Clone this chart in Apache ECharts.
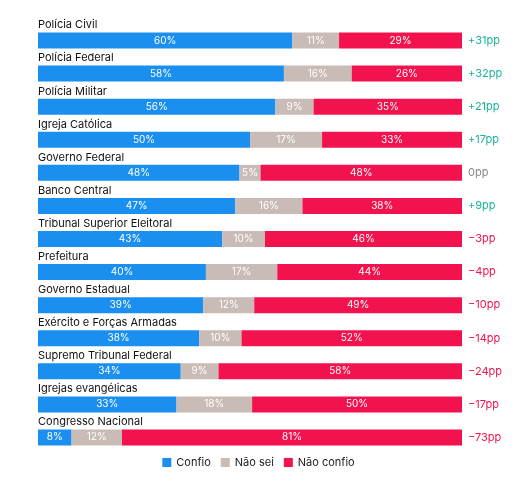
<!DOCTYPE html>
<html><head><meta charset="utf-8">
<script src="https://cdn.jsdelivr.net/npm/echarts@6/dist/echarts.min.js"></script>
<style>html,body{margin:0;background:#fff}#c{width:517px;height:487px}</style>
</head><body><div id="c"></div>
<script>
var categories = ['Polícia Civil', 'Polícia Federal', 'Polícia Militar', 'Igreja Católica', 'Governo Federal',
  'Banco Central', 'Tribunal Superior Eleitoral', 'Prefeitura', 'Governo Estadual', 'Exército e Forças Armadas',
  'Supremo Tribunal Federal', 'Igrejas evangélicas', 'Congresso Nacional'];
var confio = [60, 58, 56, 50, 48, 47, 43, 40, 39, 38, 34, 33, 8];
var naoSei = [11, 16, 9, 17, 5, 16, 10, 17, 12, 10, 9, 18, 12];
var naoConfio = [29, 26, 35, 33, 48, 38, 46, 44, 49, 52, 58, 50, 81];
var saldo = [31, 32, 21, 17, 0, 9, -3, -4, -10, -14, -24, -17, -73];

var chart = echarts.init(document.getElementById('c'));
var font = 'Inter';

function norm(arr) {
  return arr.map(function (v, i) {
    var s = confio[i] + naoSei[i] + naoConfio[i];
    return { value: v / s * 100, raw: v };
  });
}
function saldoText(v) {
  if (v > 0) return '{pos|+' + v + 'pp}';
  if (v < 0) return '{neg|\u2212' + (-v) + 'pp}';
  return '{zero|0pp}';
}
function inner(p) { return p.data.raw + '%'; }

var option = {
  backgroundColor: '#ffffff',
  textStyle: { fontFamily: font },
  legend: {
    bottom: 14, left: 'center', itemWidth: 9, itemHeight: 9, itemGap: 10, icon: 'rect',
    textStyle: { fontSize: 11, color: '#222', fontFamily: font },
    data: ['Confio', 'Não sei', 'Não confio']
  },
  grid: { left: 38, right: 55, top: 24, bottom: 33 },
  xAxis: { type: 'value', min: 0, max: 100, show: false },
  yAxis: {
    type: 'category', inverse: true, data: categories,
    axisLine: { show: false }, axisTick: { show: false },
    axisLabel: {
      inside: true, margin: 0, align: 'left', verticalAlign: 'bottom', padding: [0, 0, 10, 0],
      fontSize: 11, color: '#111', fontFamily: font
    }
  },
  series: [
    { name: 'Confio', type: 'bar', stack: 't', barWidth: 16, itemStyle: { color: '#1a8ff0' },
      data: norm(confio), label: { show: true, color: '#fff', fontSize: 10, formatter: inner } },
    { name: 'Não sei', type: 'bar', stack: 't', itemStyle: { color: '#c9bcb6' },
      data: norm(naoSei), label: { show: true, color: '#fff', fontSize: 10, formatter: inner } },
    { name: 'Não confio', type: 'bar', stack: 't', itemStyle: { color: '#f2134e' },
      data: norm(naoConfio), label: { show: true, color: '#fff', fontSize: 10, formatter: inner } },
    { name: 'saldo', type: 'bar', stack: 't', clip: false, data: saldo.map(function (v) { return { value: 0, s: v }; }),
      itemStyle: { color: 'transparent' }, legendHoverLink: false, silent: true,
      label: {
        show: true, position: 'right', distance: 6,
        formatter: function (p) { return saldoText(p.data.s); },
        rich: {
          pos: { color: '#19b39b', fontSize: 11, fontFamily: font },
          neg: { color: '#f2134e', fontSize: 11, fontFamily: font },
          zero: { color: '#888', fontSize: 11, fontFamily: font }
        }
      } }
  ]
};
chart.setOption(option);
</script></body></html>
